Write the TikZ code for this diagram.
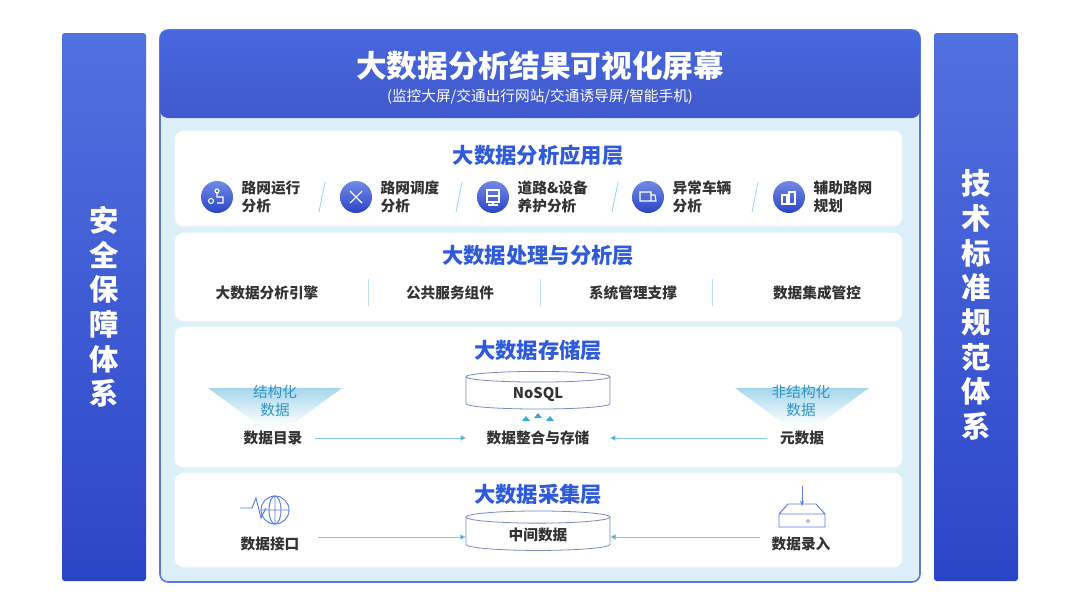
\documentclass[tikz,border=0pt]{standalone}
\usepackage{fontspec}
\setmainfont{Noto Sans CJK SC}
\usetikzlibrary{shapes.geometric,arrows.meta}
\definecolor{mblue}{HTML}{3358DA}
\definecolor{dblue}{HTML}{2C45C8}
\definecolor{lbg}{HTML}{DDF0FA}
\definecolor{tblue}{HTML}{2F5BDA}
\definecolor{txt}{HTML}{333333}
\definecolor{arr}{HTML}{3AA6D8}
\begin{document}
\begin{tikzpicture}[x=0.75pt,y=-0.75pt,
  sidebar/.style={draw=none,top color=mblue!85!white,bottom color=dblue,rounded corners=2pt},
  layer/.style={fill=white,draw=white!80!lbg,rounded corners=6pt},
  ltitle/.style={text=tblue,font=\bfseries\fontsize{16}{17}\selectfont},
  item/.style={text=txt,font=\bfseries\fontsize{11}{13.5}\selectfont,align=left},
  citem/.style={text=txt,font=\bfseries\fontsize{11}{13}\selectfont,align=center},
  icon/.style={circle,minimum size=24pt,inner sep=0,top color=mblue!70!white,bottom color=dblue},
  db/.style={cylinder,shape border rotate=90,aspect=0.18,draw=tblue!70!black!60,line width=0.6pt,minimum width=108pt,minimum height=27pt,fill=white,text=txt,font=\bfseries\fontsize{11}{12}\selectfont},
  flow/.style={draw=arr!60,line width=0.5pt,-{Triangle[length=4pt,width=4pt,fill=arr]}},
  sep/.style={draw=arr!50,line width=0.6pt},
]
\useasboundingbox (0,0) rectangle (1080,607);
\fill[white] (0,0) rectangle (1080,607);
% side bars
\path[sidebar] (62,33) rectangle (146,581);
\path[sidebar] (934,33) rectangle (1018,581);
\node[text=white,font=\bfseries\fontsize{22}{26}\selectfont,align=center] (lbar) at (104,307) {安\\全\\保\\障\\体\\系};
\node[text=white,font=\bfseries\fontsize{22}{26}\selectfont,align=center] (rbar) at (976,305) {技\\术\\标\\准\\规\\范\\体\\系};
% main frame
\path[fill=lbg,draw=mblue!80,line width=1.2pt,rounded corners=6pt] (160,30) rectangle (920,582);
\path[top color=mblue!90!white,bottom color=dblue!90!white,rounded corners=6pt] (160,30) rectangle (920,118);
\node[text=white,font=\bfseries\fontsize{23}{25}\selectfont] (title) at (540,66) {大数据分析结果可视化屏幕};
\node[text=white,font=\fontsize{11}{12}\selectfont] (sub) at (540,97) {(监控大屏/交通出行网站/交通诱导屏/智能手机)};
% layers
\path[layer] (175,131) rectangle (902,226);
\path[layer] (175,233) rectangle (902,321);
\path[layer] (175,327) rectangle (902,467);
\path[layer] (175,473) rectangle (902,567);
\node[ltitle] (t1) at (538,155) {大数据分析应用层};
\node[ltitle] (t2) at (538,255) {大数据处理与分析层};
\node[ltitle] (t3) at (538,350) {大数据存储层};
\node[ltitle] (t4) at (538,494) {大数据采集层};
% layer 1 items
\foreach \x/\t/\n in {217/{路网运行\\分析}/a,356/{路网调度\\分析}/b,493/{道路\&设备\\养护分析}/c,648/{异常车辆\\分析}/d,789/{辅助路网\\规划}/e}{
  \node[icon] (ic\n) at (\x,197) {};
  \node[item,anchor=west] (it\n) at (\x+20,197) {\t};
}
\foreach \x in {319,456,612,752}{\draw[sep] (\x,212) -- (\x+6,182);}
% simple icon glyphs
\draw[white,line width=0.8pt] (icb.center)+(-6,-6) -- +(6,6) +(6,-6) -- +(-6,6);
\draw[white,line width=0.8pt] (icc.center)+(-6,-7) rectangle +(6,5) +(-6,-1) -- +(6,-1) +(0,5) -- +(0,8) +(-5,8) -- +(5,8);
\draw[white,line width=0.8pt] (icd.center)+(-8,-5) rectangle +(3,4) +(3,-2) -- +(7,-2) -- +(8,4) -- +(3,4);
\draw[white,line width=0.8pt] (ice.center)+(-7,-2) rectangle +(-2,7) +(0,-5) rectangle +(6,7);
\draw[white,line width=0.8pt] (ica.center)+(-6,4) circle (2.5) +(0,-6) circle (2) +(0,-4) -- +(0,0) -- +(6,0) -- +(6,6) -- +(0,6);
% layer 2
\node[citem] (p1) at (267,293) {大数据分析引擎};
\node[citem] (p2) at (450,293) {公共服务组件};
\node[citem] (p3) at (633,293) {系统管理支撑};
\node[citem] (p4) at (817,293) {数据集成管控};
\foreach \x in {368,540,712}{\draw[sep,draw=arr!35] (\x,279) -- (\x,306);}
% layer 3
\shade[top color=arr!45,bottom color=white] (208,388) -- (342,388) -- (290,426) -- (260,426) -- cycle;
\shade[top color=arr!45,bottom color=white] (735,388) -- (869,388) -- (817,426) -- (787,426) -- cycle;
\node[text=arr!90!black,font=\fontsize{11}{14}\selectfont,align=center] (s1) at (275,401) {结构化\\数据};
\node[text=arr!90!black,font=\fontsize{11}{14}\selectfont,align=center] (s2) at (801,401) {非结构化\\数据};
\node[db] (nosql) at (538,394) {NoSQL};
\node[citem] (m1) at (273,438) {数据目录};
\node[citem] (m2) at (538,438) {数据整合与存储};
\node[citem] (m3) at (802,438) {元数据};
\foreach \dx/\h in {-12/4,0/7,12/4}{
  \fill[arr] (538+\dx,420-\h) -- ++(-4,5) -- ++(8,0) -- cycle;
}
\draw[flow] (m1.east)+(8,0) -- ([xshift=-12pt]m2.west);
\draw[flow] (m3.west)+(-8,0) -- ([xshift=12pt]m2.east);
% layer 4
\node[db,minimum height=29pt] (mid) at (538,535) {中间数据};
\node[citem] (c1) at (270,544) {数据接口};
\node[citem] (c2) at (801,544) {数据录入};
\coordinate (c1e) at (318,537);
\coordinate (c2w) at (760,537);
\draw[flow] (c1e) -- (mid.west |- c1e);
\draw[flow] (c2w) -- (mid.east |- c2w);
% icons layer 4
\draw[tblue!80,line width=0.7pt] (275,510) circle (14) (275,496) -- (275,524) (261,510) -- (289,510);
\draw[tblue!80,line width=0.7pt] (275,510) ellipse (6 and 14);
\draw[tblue!80,line width=0.7pt] (240,508) -- (252,508) -- (256,498) -- (261,518) -- (266,508);
\draw[tblue!80,line width=0.7pt] (779,514) -- (788,504) -- (816,504) -- (825,514) -- (825,527) -- (779,527) -- cycle (779,514) -- (825,514);
\draw[tblue!80,line width=0.7pt,-{Stealth[length=4pt]}] (802,486) -- (802,506);
\draw[tblue!80] (808,521) circle (1.5);
\end{tikzpicture}
\end{document}
